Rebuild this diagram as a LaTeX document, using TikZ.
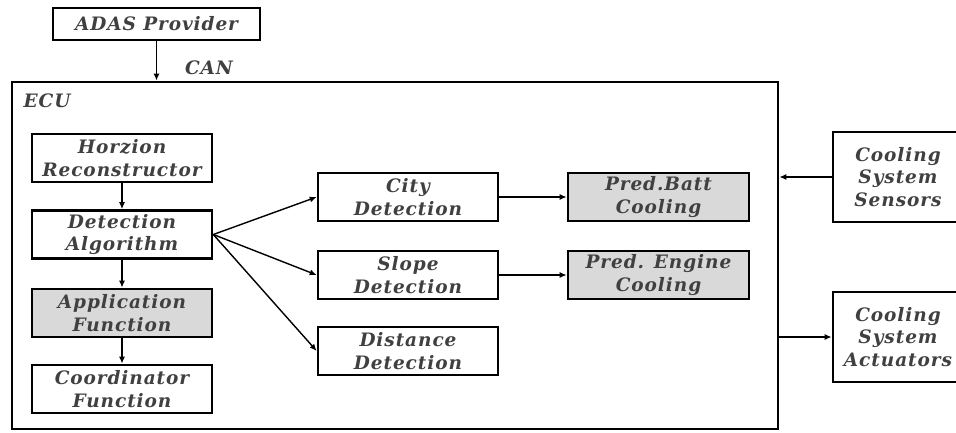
\documentclass[tikz,border=0pt]{standalone}
\usepackage{fontspec}
\newfontfamily\boxfont{DejaVu Serif}[LetterSpace=5]
\usetikzlibrary{arrows.meta}
\definecolor{boxgray}{HTML}{D9D9D9}
\definecolor{txtgray}{HTML}{404040}
\tikzstyle{every node}=[font=\boxfont\bfseries\itshape\fontsize{18.5}{22.5}\selectfont,text=txtgray,align=center]
\tikzstyle{block}=[draw=black,line width=2.6pt,rectangle,inner sep=0pt,minimum width=180pt,minimum height=48pt]
\tikzstyle{shaded}=[block,fill=boxgray]
\tikzstyle{side}=[block,minimum width=130pt,minimum height=90pt]
\tikzstyle{tag}=[draw=none,inner sep=0pt]
\tikzstyle{link}=[draw=black,line width=1.4pt,-{Latex[length=7pt,width=6pt]}]

\begin{document}
\begin{tikzpicture}[x=1pt,y=-1pt]
  \clip (0,0) rectangle (956,432);
  \node[block,minimum width=207pt,minimum height=32pt] (adas) at (156.5,24) {ADAS Provider};
  \node[draw=black,line width=2.6pt,inner sep=0pt,minimum width=766pt,minimum height=347pt] (ecu) at (395,255.5) {};
  \node[tag] (can) at (209,68) {CAN};
  \node[tag] (ecutag) at (47,101) {ECU};

  \node[block] (horizon) at (122,158) {Horzion\\Reconstructor};
  \node[block] (detect) at (122,234.5) {Detection\\Algorithm};
  \node[shaded] (appfun) at (122,313) {Application\\Function};
  \node[block] (coordfun) at (122,389) {Coordinator\\Function};

  \node[block] (city) at (408,197) {City\\Detection};
  \node[block] (slope) at (408,275) {Slope\\Detection};
  \node[block] (dist) at (408,351) {Distance\\Detection};
  \node[shaded,minimum width=181pt] (batt) at (658.5,197) {Pred.Batt\\Cooling};
  \node[shaded,minimum width=181pt] (engine) at (658.5,275) {Pred. Engine\\Cooling};

  \node[side] (sensors) at (898,177) {Cooling\\System\\Sensors};
  \node[side] (actuators) at (898,337) {Cooling\\System\\Actuators};

  \draw[link] (adas.south) -- (adas.south |- ecu.north);
  \draw[link] (horizon) -- (detect);
  \draw[link] (detect) -- (appfun);
  \draw[link] (appfun) -- (coordfun);
  \draw[link] (detect.east) -- (city.west);
  \draw[link] (detect.east) -- (slope.west);
  \draw[link] (detect.east) -- (dist.west);
  \draw[link] (city) -- (batt);
  \draw[link] (slope) -- (engine);
  \draw[link] (sensors.west) -- (sensors.west -| ecu.east);
  \draw[link] (actuators.west -| ecu.east) -- (actuators.west);
\end{tikzpicture}
\end{document}
